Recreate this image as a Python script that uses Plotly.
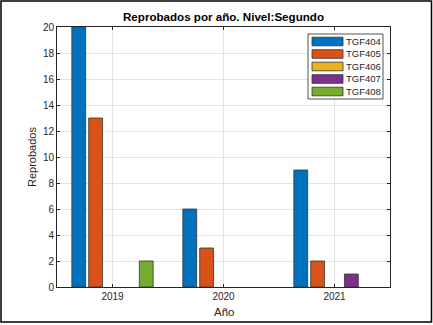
import plotly.graph_objects as go

years = ["2019", "2020", "2021"]
series_names = ["TGF404", "TGF405", "TGF406", "TGF407", "TGF408"]
tgf404 = [20, 6, 9]
tgf405 = [13, 3, 2]
tgf406 = [0, 0, 0]
tgf407 = [0, 0, 1]
tgf408 = [2, 0, 0]
series_values = [tgf404, tgf405, tgf406, tgf407, tgf408]
colors = ["#0072BD", "#D95319", "#EDB120", "#7E2F8E", "#77AC30"]

W, H = 433, 325
L, R, T, B = 57, 43, 27, 38
PW, PH = W - L - R, H - T - B

def px(x):
    return (x - L) / PW

def py(y):
    return 1 - (y - T) / PH

xpos = [1, 2, 3]
fig = go.Figure()
for name, vals, col in zip(series_names, series_values, colors):
    widths = [0.8 if v != 0 else 0 for v in vals]
    fig.add_trace(go.Bar(x=xpos, y=vals, name=name,
                         marker=dict(color=col, line=dict(color="#333333", width=widths)),
                         showlegend=False))

font = "Liberation Sans, Arial, Helvetica, sans-serif"
shapes = []
annotations = []
# outer frame
shapes.append(dict(type="rect", xref="paper", yref="paper", x0=px(1), x1=px(431.5), y0=py(1), y1=py(322),
                   line=dict(color="#000000", width=1.5), fillcolor="rgba(0,0,0,0)"))
# legend box
shapes.append(dict(type="rect", xref="paper", yref="paper", x0=px(308), x1=px(383), y0=py(34), y1=py(99),
                   line=dict(color="#262626", width=0.8), fillcolor="white"))
for i, (name, col) in enumerate(zip(series_names, colors)):
    cy = 41.5 + i * 12.5
    shapes.append(dict(type="rect", xref="paper", yref="paper", x0=px(312), x1=px(343), y0=py(cy - 4.3), y1=py(cy + 4.3),
                       line=dict(color="#333333", width=0.8), fillcolor=col))
    annotations.append(dict(xref="paper", yref="paper", x=px(344), y=py(cy), text=name, showarrow=False,
                            xanchor="left", yanchor="middle", font=dict(family=font, size=9.5, color="#262626")))

# axis titles as annotations for exact placement
annotations.append(dict(xref="paper", yref="paper", x=0.5, y=py(312), text="Año", showarrow=False,
                        xanchor="center", yanchor="middle", font=dict(family=font, size=11.5, color="#262626")))
annotations.append(dict(xref="paper", yref="paper", x=px(32), y=0.5, text="Reprobados", showarrow=False, textangle=-90,
                        xanchor="center", yanchor="middle", font=dict(family=font, size=11, color="#262626")))

fig.update_layout(
    width=W, height=H,
    margin=dict(l=L, r=R, t=T, b=B),
    paper_bgcolor="white", plot_bgcolor="white",
    barmode="group", bargap=0.24, bargroupgap=0.18,
    font=dict(family=font, size=10, color="#262626"),
    title=dict(text="<b>Reprobados por año. Nivel:Segundo</b>", x=0.5, xref="paper", xanchor="center",
               y=1 - 17 / H, yanchor="middle", font=dict(size=11.6, color="#000000")),
    shapes=shapes, annotations=annotations,
)
fig.update_xaxes(range=[0.5, 3.5], tickvals=xpos, ticktext=years, showline=True, linecolor="#262626", linewidth=0.8,
                 mirror="ticks", ticks="inside", ticklen=3, tickcolor="#262626", showgrid=True, gridcolor="#e3e3e3",
                 zeroline=False, tickfont=dict(size=10), automargin=False)
fig.update_yaxes(range=[0, 20], dtick=2, showline=True, linecolor="#262626", linewidth=0.8,
                 mirror="ticks", ticks="inside", ticklen=3, tickcolor="#262626", showgrid=True, gridcolor="#e3e3e3",
                 zeroline=False, tickfont=dict(size=10), automargin=False)

fig.write_html("out.html")
